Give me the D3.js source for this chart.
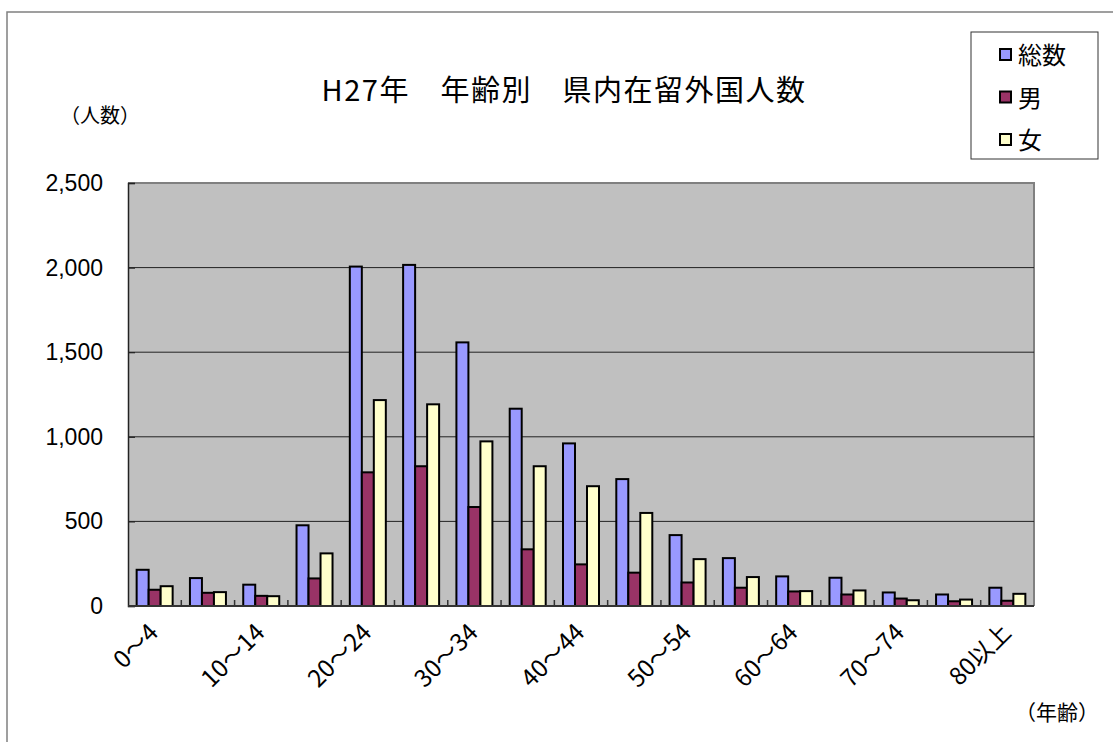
<!DOCTYPE html>
<html>
<head>
<meta charset="utf-8">
<script src="https://cdn.jsdelivr.net/npm/d3@7"></script>
<style>
  body { margin: 0; background: #fff; }
  svg { display: block; font-family: "Liberation Sans", "Noto Sans CJK JP", sans-serif; }
  .jp { font-family: "Noto Sans CJK JP", "Liberation Sans", sans-serif; }
</style>
</head>
<body>
<div id="chart"></div>
<script>
const width = 1113, height = 742;

const ages = ["0～4","5～9","10～14","15～19","20～24","25～29","30～34","35～39",
  "40～44","45～49","50～54","55～59","60～64","65～69","70～74","75～79","80以上"];
const totals = [214,165,126,477,2006,2016,1558,1166,961,750,419,283,175,167,80,68,108];
const males = [96,78,60,163,790,826,585,335,246,197,139,108,86,68,44,28,31];
const females = [117,82,58,311,1217,1192,973,826,708,550,277,171,88,92,34,38,72];
const seriesNames = ["総数","男","女"];
const colors = ["#9999ff","#993366","#ffffcc"];
const yTicks = [0,500,1000,1500,2000,2500];

const margin = {left: 128, right: 1034, top: 183, bottom: 606};

const svg = d3.select("#chart").append("svg")
  .attr("width", width).attr("height", height);

// outer frame
svg.append("rect")
  .attr("x", 7).attr("y", 12).attr("width", 1120).attr("height", 750)
  .attr("fill", "none").attr("stroke", "#808080").attr("stroke-width", 1.5);

const x = d3.scaleBand().domain(ages).range([margin.left, margin.right]);
const x1 = d3.scaleBand().domain(seriesNames).range([0, 36]);
const y = d3.scaleLinear().domain([0, 2500]).range([margin.bottom, margin.top]);

// plot area
svg.append("rect")
  .attr("x", margin.left).attr("y", margin.top)
  .attr("width", margin.right - margin.left).attr("height", margin.bottom - margin.top)
  .attr("fill", "#c0c0c0");
svg.append("path")
  .attr("d", `M${margin.left},${margin.top}H${margin.right}V${margin.bottom}`)
  .attr("fill", "none").attr("stroke", "#808080").attr("stroke-width", 2);

// gridlines
svg.append("g").selectAll("line")
  .data(yTicks.slice(1, -1))
  .join("line")
  .attr("x1", margin.left).attr("x2", margin.right)
  .attr("y1", d => y(d)).attr("y2", d => y(d))
  .attr("stroke", "#222").attr("stroke-width", 1);

// y axis
const yAxis = svg.append("g")
  .attr("transform", `translate(${margin.left},0)`)
  .call(d3.axisRight(y).tickValues(yTicks).tickSize(7).tickFormat(""));
yAxis.select(".domain").attr("stroke", "#222").attr("stroke-width", 1.5);
yAxis.selectAll(".tick line").attr("stroke", "#222").attr("stroke-width", 1.2);

svg.append("g").selectAll("text")
  .data(yTicks)
  .join("text")
  .attr("x", 103).attr("y", d => y(d) + 8)
  .attr("text-anchor", "end")
  .attr("font-size", 23)
  .text(d => d3.format(",")(d));

// bars
const series = [totals, males, females];
const groups = svg.append("g").selectAll("g")
  .data(ages)
  .join("g")
  .attr("transform", d => `translate(${x(d) + (x.bandwidth() - 36) / 2},0)`);

groups.selectAll("rect")
  .data((d, i) => seriesNames.map((s, j) => ({s, v: series[j][i], c: colors[j]})))
  .join("rect")
  .attr("x", d => x1(d.s))
  .attr("y", d => y(d.v))
  .attr("width", x1.bandwidth())
  .attr("height", d => y(0) - y(d.v))
  .attr("fill", d => d.c)
  .attr("stroke", "#000").attr("stroke-width", 2);

// x axis
svg.append("line")
  .attr("x1", margin.left).attr("x2", margin.right)
  .attr("y1", margin.bottom).attr("y2", margin.bottom)
  .attr("stroke", "#333").attr("stroke-width", 2);
svg.append("g").selectAll("line")
  .data(ages.slice(1))
  .join("line")
  .attr("x1", d => x(d)).attr("x2", d => x(d))
  .attr("y1", margin.bottom).attr("y2", margin.bottom - 6)
  .attr("stroke", "#333").attr("stroke-width", 1.5);

svg.append("g").selectAll("text")
  .data(ages.filter((d, i) => i % 2 === 0))
  .join("text")
  .attr("class", "jp")
  .attr("transform", d => `translate(${x(d) + x.bandwidth() / 2 + 5},${634}) rotate(-45)`)
  .attr("text-anchor", "end")
  .attr("font-size", 24)
  .text(d => d);

// title and axis labels
svg.append("text")
  .attr("class", "jp")
  .attr("x", 564).attr("y", 101)
  .attr("text-anchor", "middle")
  .attr("font-size", 29)
  .attr("letter-spacing", 1.5)
  .text("H27年　年齢別　県内在留外国人数");

svg.append("text")
  .attr("class", "jp")
  .attr("x", 60).attr("y", 123)
  .attr("font-size", 20)
  .text("（人数）");

svg.append("text")
  .attr("class", "jp")
  .attr("x", 1015).attr("y", 720)
  .attr("font-size", 21)
  .text("（年齢）");

// legend
const legend = svg.append("g");
legend.append("rect")
  .attr("x", 971).attr("y", 32).attr("width", 127).attr("height", 127)
  .attr("fill", "#fff").attr("stroke", "#333").attr("stroke-width", 1);
const li = legend.selectAll("g.item")
  .data(seriesNames)
  .join("g")
  .attr("class", "item")
  .attr("transform", (d, i) => `translate(1000,${54 + i * 42.5})`);
li.append("rect")
  .attr("x", 0).attr("y", -5).attr("width", 11).attr("height", 11)
  .attr("fill", (d, i) => colors[i]).attr("stroke", "#000").attr("stroke-width", 2);
li.append("text")
  .attr("class", "jp")
  .attr("x", 18).attr("y", 10)
  .attr("font-size", 24)
  .text(d => d);
</script>
</body>
</html>
